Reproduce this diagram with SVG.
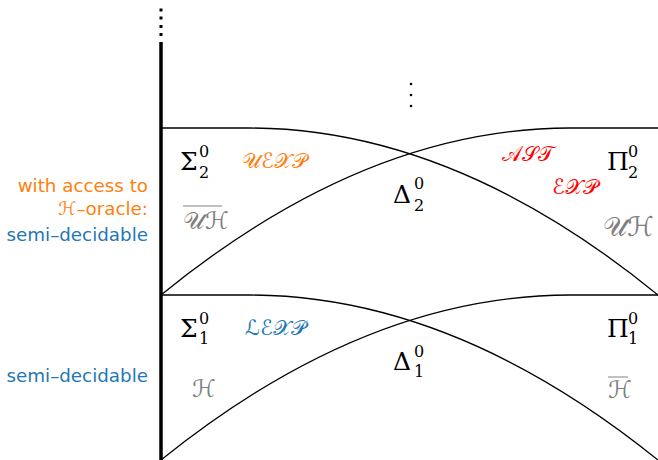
<svg xmlns="http://www.w3.org/2000/svg" width="658" height="460" viewBox="0 0 658 460">
<style>
.curve{fill:none;stroke:#000;stroke-width:1.3}
.gr{font-family:'DejaVu Serif',serif;font-size:25px;fill:#000}
.sc{font-family:'DejaVu Serif',serif;font-size:16px;fill:#000}
.cal{font-family:'DejaVu Serif','DejaVu Sans',serif;font-size:21px}
.lab{font-family:'DejaVu Sans','Liberation Sans',sans-serif;font-size:18.3px;text-anchor:end}
.or{fill:#ff7f0e}
.bl{fill:#1f77b4}
.rd{fill:#ff0000}
.gy{fill:#808080}
</style>
<rect width="658" height="460" fill="#fff"/>
<g id="axis">
<rect x="159.5" y="8.5" width="3" height="3"/>
<rect x="159.5" y="16.5" width="3" height="3"/>
<rect x="159.5" y="25" width="3" height="3"/>
<rect x="159.5" y="33" width="3" height="3"/>
<line x1="161" y1="42" x2="161" y2="460" stroke="#000" stroke-width="3.5"/>
<circle cx="411" cy="84" r="1.3"/>
<circle cx="411" cy="95" r="1.3"/>
<circle cx="411" cy="106" r="1.3"/>
</g>
<g id="connectors">
<path class="curve" d="M161,295 Q365.5,128 570,128 L658,128"/>
<path class="curve" d="M161,128 L249,128 Q453.5,128 658,295"/>
<path class="curve" d="M161,460 Q365.5,295 570,295 L658,295"/>
<path class="curve" d="M161,295 L249,295 Q453.5,295 658,460"/>
</g>
<g id="sigma2">
<text class="gr" x="180" y="170">Σ</text>
<text class="sc" x="199" y="157">0</text>
<text class="sc" x="199" y="178">2</text>
</g>
<g id="pi2">
<text class="gr" x="607" y="170">Π</text>
<text class="sc" x="628" y="157">0</text>
<text class="sc" x="628" y="178">2</text>
</g>
<g id="delta2">
<text class="gr" x="393" y="203">Δ</text>
<text class="sc" x="414" y="189">0</text>
<text class="sc" x="414" y="211">2</text>
</g>
<g id="sigma1">
<text class="gr" x="180" y="337">Σ</text>
<text class="sc" x="199" y="324">0</text>
<text class="sc" x="199" y="344">1</text>
</g>
<g id="pi1">
<text class="gr" x="607" y="337">Π</text>
<text class="sc" x="628" y="324">0</text>
<text class="sc" x="628" y="344">1</text>
</g>
<g id="delta1">
<text class="gr" x="393" y="370">Δ</text>
<text class="sc" x="414" y="357">0</text>
<text class="sc" x="414" y="377">1</text>
</g>
<g id="uexp"><text class="cal or" x="242" y="168">𝒰ℰ𝒳𝒫</text></g>
<g id="lexp"><text class="cal bl" x="245" y="335">ℒℰ𝒳𝒫</text></g>
<g id="ast"><text class="cal rd" x="502" y="161">𝒜𝒮𝒯</text></g>
<g id="exp"><text class="cal rd" x="552" y="194">ℰ𝒳𝒫</text></g>
<g id="uh-bar">
<line x1="183" y1="206" x2="222" y2="206" stroke="#808080" stroke-width="1"/>
<text class="cal gy" x="183" y="229" style="font-size:24px">𝒰ℋ</text>
</g>
<g id="uh"><text class="cal gy" x="603" y="236" style="font-size:27px">𝒰ℋ</text></g>
<g id="h"><text class="cal gy" x="192" y="397" style="font-size:24px">ℋ</text></g>
<g id="h-bar">
<line x1="608" y1="377" x2="628" y2="377" stroke="#808080" stroke-width="1"/>
<text class="cal gy" x="608" y="398" style="font-size:24px">ℋ</text>
</g>
<g id="label-upper">
<text class="lab or" x="148" y="192">with access to</text>
<text class="lab or" x="148" y="215">ℋ–oracle:</text>
<text class="lab bl" x="148" y="241">semi–decidable</text>
</g>
<g id="label-lower">
<text class="lab bl" x="148" y="382">semi–decidable</text>
</g>
</svg>
